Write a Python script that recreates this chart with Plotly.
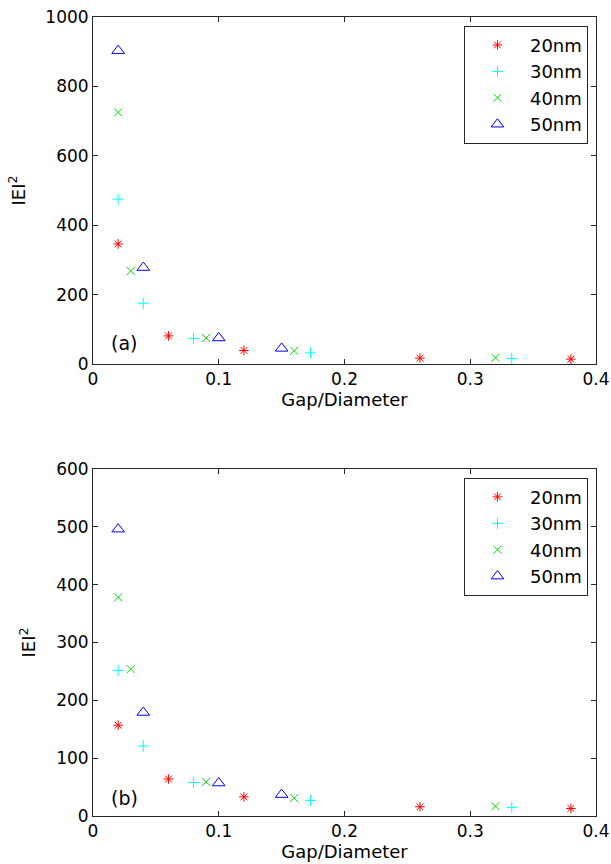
import plotly.graph_objects as go

# Gap/Diameter ratios for each particle diameter
gap20 = [0.02, 0.06, 0.12, 0.26, 0.38]
gap30 = [0.02, 0.04, 0.08, 0.173, 0.333]
gap40 = [0.02, 0.03, 0.09, 0.16, 0.32]
gap50 = [0.02, 0.04, 0.10, 0.15]

# Field enhancement |E|^2, panel (a)
e20a = [346, 81, 39, 17, 14]
e30a = [475, 175, 74, 32, 16]
e40a = [725, 268, 75, 38, 18]
e50a = [903, 278, 75, 45]

# Field enhancement |E|^2, panel (b)
e20b = [157, 64, 33, 16, 13]
e30b = [252, 121, 58, 27, 15]
e40b = [378, 254, 59, 31, 17]
e50b = [496, 179, 57, 37]

names = ["20nm", "30nm", "40nm", "50nm"]
gaps = [gap20, gap30, gap40, gap50]
panel_a = [e20a, e30a, e40a, e50a]
panel_b = [e20b, e30b, e40b, e50b]

styles = [
    dict(symbol="asterisk-open", size=8, color="#ff0000"),
    dict(symbol="cross-thin-open", size=8, color="#00ffff"),
    dict(symbol="x-thin-open", size=8, color="#00e000"),
    dict(symbol="triangle-up-open", size=11, color="#0000ff"),
]

FONT = "DejaVu Sans"
AX = "#262626"

fig = go.Figure()
for name, g, ya, yb, st in zip(names, gaps, panel_a, panel_b, styles):
    mk = dict(symbol=st["symbol"], size=st["size"], color=st["color"],
              line=dict(color=st["color"], width=1))
    fig.add_trace(go.Scatter(x=g, y=ya, mode="markers", name=name, marker=mk,
                             xaxis="x", yaxis="y", legend="legend"))
    fig.add_trace(go.Scatter(x=g, y=yb, mode="markers", name=name, marker=mk,
                             xaxis="x2", yaxis="y2", legend="legend2"))

axis_common = dict(
    showline=True, linecolor=AX, linewidth=1, mirror="ticks",
    ticks="inside", ticklen=5, tickcolor=AX, tickwidth=1,
    showgrid=False, zeroline=False, automargin=False,
    tickfont=dict(family=FONT, size=17, color="black"),
)

xcommon = dict(axis_common, range=[0, 0.4], tickvals=[0, 0.1, 0.2, 0.3, 0.4],
               ticktext=["0", "0.1", "0.2", "0.3", "0.4"],
               title=dict(text="Gap/Diameter", font=dict(family=FONT, size=18, color="black"),
                          standoff=4))
ytitle = dict(text="IEI<sup>2</sup>", font=dict(family=FONT, size=18, color="black"))

legend_common = dict(
    xanchor="right", yanchor="top", x=0.984,
    bgcolor="white", bordercolor=AX, borderwidth=1,
    font=dict(family=FONT, size=18, color="black"),
    itemwidth=55, tracegroupgap=0,
)

fig.update_layout(
    width=611, height=864,
    margin=dict(l=93, r=15, t=17, b=48),
    paper_bgcolor="white", plot_bgcolor="white",
    font=dict(family=FONT, color="black"),
    xaxis=dict(xcommon, anchor="y", domain=[0, 1]),
    yaxis=dict(axis_common, anchor="x", domain=[0.5657, 1], range=[0, 1000],
               tickvals=[0, 200, 400, 600, 800, 1000], title=ytitle),
    xaxis2=dict(xcommon, anchor="y2", domain=[0, 1]),
    yaxis2=dict(axis_common, anchor="x2", domain=[0, 0.4343], range=[0, 600],
                tickvals=[0, 100, 200, 300, 400, 500, 600], title=ytitle),
    legend=dict(legend_common, y=0.989),
    legend2=dict(legend_common, y=0.4234),
    annotations=[
        dict(text="(a)", x=0.013, y=60, xref="x", yref="y", xanchor="left",
             yanchor="middle", showarrow=False,
             font=dict(family=FONT, size=19, color="black")),
        dict(text="(b)", x=0.013, y=31, xref="x2", yref="y2", xanchor="left",
             yanchor="middle", showarrow=False,
             font=dict(family=FONT, size=19, color="black")),
    ],
    showlegend=True,
)

fig.write_html("out.html")
